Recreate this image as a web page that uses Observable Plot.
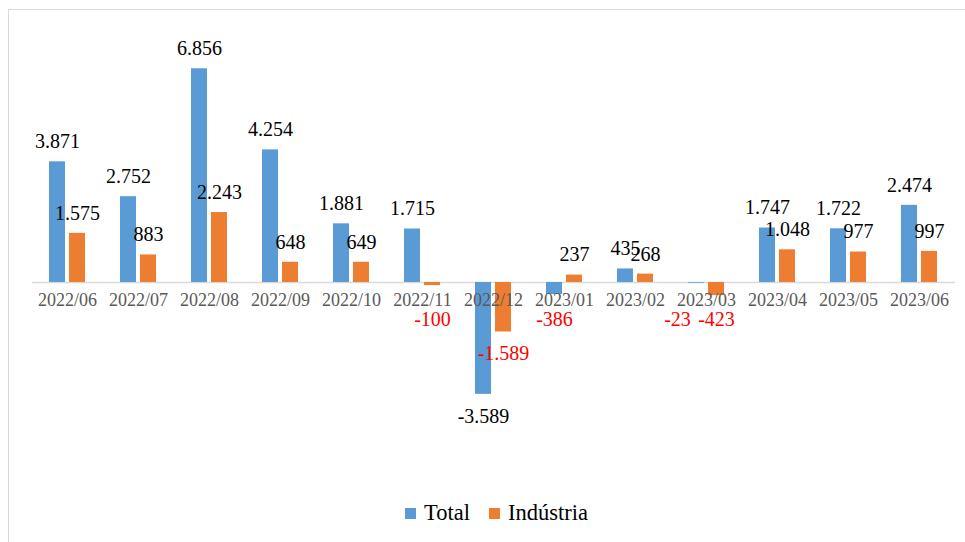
<!DOCTYPE html>
<html>
<head>
<meta charset="utf-8">
<script src="https://cdn.jsdelivr.net/npm/d3@7"></script>
<script src="https://cdn.jsdelivr.net/npm/@observablehq/plot@0.6"></script>
<style>
  html, body { margin: 0; padding: 0; background: #fff; }
  #wrap { position: relative; width: 965px; height: 542px; overflow: hidden; background: #fff; }
  #chart { position: absolute; left: 0; top: 0; }
  #frame { position: absolute; left: 8px; top: 9px; right: 0; bottom: 0; border-top: 1.5px solid #d9d9d9; border-left: 1.5px solid #d9d9d9; pointer-events: none; }
  #legend { position: absolute; left: 405px; top: 499px; height: 28px; font-family: "Liberation Serif", "Times New Roman", serif; font-size: 22.5px; color: #000; display: flex; align-items: center; white-space: nowrap; }
  .sw { display: inline-block; width: 11px; height: 11px; margin-right: 8px; }
  .item { display: flex; align-items: center; margin-right: 19px; }
</style>
</head>
<body>
<div id="wrap">
  <div id="chart"></div>
  <div id="legend"></div>
  <div id="frame"></div>
</div>
<script>
const months = ["2022/06","2022/07","2022/08","2022/09","2022/10","2022/11","2022/12","2023/01","2023/02","2023/03","2023/04","2023/05","2023/06"];
const total = [3871, 2752, 6856, 4254, 1881, 1715, -3589, -386, 435, -23, 1747, 1722, 2474];
const industria = [1575, 883, 2243, 648, 649, -100, -1589, 237, 268, -423, 1048, 977, 997];
const seriesNames = ["Total", "Indústria"];
const seriesColors = ["#5B9BD5", "#ED7D31"];

const rows = months.flatMap((m, i) => [
  {month: m, series: "Total", value: total[i]},
  {month: m, series: "Indústria", value: industria[i]}
]);

const fmt = d3.formatLocale({decimal: ",", thousands: ".", grouping: [3], currency: ["", ""], minus: "-"}).format(",d");
const serif = "'Liberation Serif', 'Times New Roman', serif";
const shift = {"Total": -10, "Indústria": 10};
const labelSize = 20;

// negative labels sit below the category labels; a Total label whose
// neighbouring Indústria label is also small and negative is nudged left
const crowded = m => {
  const i = months.indexOf(m);
  return total[i] < 0 && industria[i] < 0 && total[i] > -400 && industria[i] > -1000;
};

const marks = [Plot.ruleY([0], {stroke: "#d9d9d9", strokeWidth: 1.5})];
for (const s of seriesNames) {
  const data = rows.filter(d => d.series === s);
  marks.push(Plot.barY(data, {x: "month", y: "value", fill: seriesColors[seriesNames.indexOf(s)], dx: shift[s]}));
  marks.push(Plot.text(data.filter(d => d.value >= 0), {
    x: "month", y: "value", text: d => fmt(d.value), dx: shift[s], dy: -20,
    lineAnchor: "middle", fontSize: labelSize, fontFamily: serif, fill: "#000"
  }));
  const neg = data.filter(d => d.value < 0);
  const groups = s === "Total"
    ? [[neg.filter(d => !crowded(d.month)), shift[s]], [neg.filter(d => crowded(d.month)), shift[s] - 19]]
    : [[neg, shift[s]]];
  for (const [g, dx] of groups) {
    marks.push(Plot.text(g, {
      x: "month", y: d => Math.min(d.value, -500), text: d => fmt(d.value), dx, dy: 22,
      lineAnchor: "middle", fontSize: labelSize, fontFamily: serif,
      fill: d => d.value < -3000 ? "#000" : "#FF0000"
    }));
  }
}
marks.push(Plot.text(months, {
  x: d => d, y: d => 0, text: d => d, dy: 18, lineAnchor: "middle",
  fontSize: 18, fontFamily: serif, fill: "#595959"
}));

const plot = Plot.plot({
  width: 965,
  height: 480,
  marginLeft: 32,
  marginRight: 10,
  marginTop: 32.6,
  marginBottom: 11,
  x: {domain: months, paddingInner: 0.769, paddingOuter: 0.3845, axis: null},
  y: {domain: [-6000, 8000], axis: null},
  style: {background: "transparent", overflow: "visible"},
  marks
});
document.getElementById("chart").appendChild(plot);

const legend = document.getElementById("legend");
seriesNames.forEach((s, i) => {
  const item = document.createElement("span");
  item.className = "item";
  const sw = document.createElement("span");
  sw.className = "sw";
  sw.style.background = seriesColors[i];
  item.appendChild(sw);
  item.appendChild(document.createTextNode(s));
  legend.appendChild(item);
});
</script>
</body>
</html>
